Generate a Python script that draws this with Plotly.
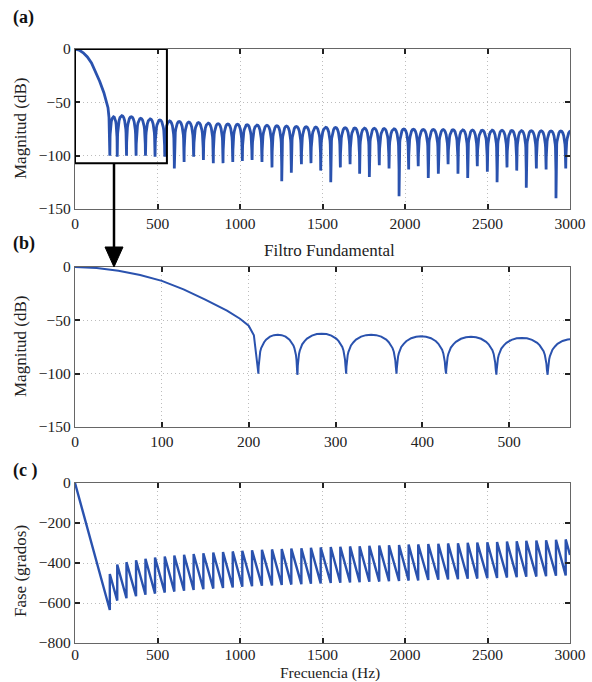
import plotly.graph_objects as go

# ---------------- data ----------------
MAIN_LOBE_HZ = [0, 25, 50, 75, 100, 125, 150, 175, 190, 200, 206]
MAIN_LOBE_DB = [0, -1, -3.5, -7.5, -13, -21, -30.5, -41, -48.5, -55, -64]

NULL_HZ = [211, 256, 312, 370, 427, 485, 544, 602, 661, 719, 778, 838, 897, 956,
           1014, 1073, 1133, 1194, 1253, 1311, 1372, 1430, 1489, 1550, 1608, 1667,
           1725, 1784, 1844, 1903, 1964, 2022, 2080, 2141, 2202, 2261, 2321, 2380,
           2438, 2499, 2558, 2618, 2677, 2735, 2796, 2855, 2915, 2974, 3033]
NULL_DB = [-100, -101, -100, -100, -100, -101, -101, -112, -106, -101, -104, -107,
           -107, -106, -105, -104, -106, -111, -124, -116, -108, -107, -114, -125,
           -111, -108, -117, -120, -109, -112, -138, -113, -110, -121, -117, -108,
           -117, -121, -110, -115, -125, -111, -114, -130, -112, -113, -140, -112, -110]
LOBE_PEAK_DB = [-63.5, -62.5, -63.5, -65, -65.5, -66.5, -67.5, -68, -68.5, -69,
                -69.5, -70, -70.3, -70.6, -71, -71.3, -71.6, -72, -72.3, -72.6,
                -72.9, -73.2, -73.4, -73.6, -73.8, -74, -74.2, -74.4, -74.6, -74.8,
                -75, -75.2, -75.4, -75.5, -75.6, -75.7, -75.8, -76, -76.1, -76.2,
                -76.3, -76.4, -76.5, -76.6, -76.7, -76.8, -76.9, -77]
# side-lobe profile: fraction of lobe width, dB below lobe peak
LOBE_SHAPE_T = [0.004, 0.01, 0.02, 0.035, 0.05, 0.075, 0.1, 0.15, 0.2, 0.3, 0.4]
LOBE_SHAPE_DB = [-38, -30, -24, -19, -16, -12.5, -10, -7, -4.6, -1.8, -0.4]

PHASE_LOW = [-635, -588, -576, -566, -559, -553, -548, -543, -539, -535, -531, -528,
             -525, -522, -519, -516, -514, -512, -510, -508, -506, -504, -502, -500,
             -499, -497, -496, -494, -493, -491, -490, -488, -487, -485, -484, -482,
             -481, -479, -478, -476, -475, -473, -471, -469, -468, -466, -464, -462]
PHASE_HIGH = [-455, -408, -396, -386, -379, -373, -368, -363, -359, -355, -351, -348,
              -345, -342, -339, -336, -334, -332, -330, -328, -326, -324, -322, -320,
              -319, -317, -316, -314, -313, -311, -310, -308, -307, -305, -304, -302,
              -301, -299, -298, -296, -295, -293, -291, -289, -288, -286, -284, -282]
PHASE_START = (0, 0)
PHASE_END = (3000, -360)

X_TICKS_FULL = [0, 500, 1000, 1500, 2000, 2500, 3000]
X_TICKS_ZOOM = [0, 100, 200, 300, 400, 500]
Y_TICKS_MAG = [-150, -100, -50, 0]
Y_TICKS_PHASE = [-800, -600, -400, -200, 0]

# ---------------- build curves ----------------
mx = list(MAIN_LOBE_HZ) + [NULL_HZ[0]]
my = list(MAIN_LOBE_DB) + [NULL_DB[0]]
for i, peak in enumerate(LOBE_PEAK_DB):
    a, b = NULL_HZ[i], NULL_HZ[i + 1]
    w = b - a
    for t, o in zip(LOBE_SHAPE_T, LOBE_SHAPE_DB):
        mx.append(a + t * w)
        my.append(max(peak + o, NULL_DB[i]))
    mx.append(a + 0.5 * w)
    my.append(peak)
    for t, o in zip(reversed(LOBE_SHAPE_T), reversed(LOBE_SHAPE_DB)):
        mx.append(b - t * w)
        my.append(max(peak + o, NULL_DB[i + 1]))
    mx.append(b)
    my.append(NULL_DB[i + 1])

px = [PHASE_START[0]]
py = [PHASE_START[1]]
for f, lo, hi in zip(NULL_HZ, PHASE_LOW, PHASE_HIGH):
    px += [f, f]
    py += [lo, hi]
px.append(PHASE_END[0])
py.append(PHASE_END[1])

BLUE = "#2A52AE"
FONT = '"Liberation Serif", "Times New Roman", "DejaVu Serif", serif'

fig = go.Figure()
fig.add_trace(go.Scatter(x=mx, y=my, mode="lines", line=dict(color=BLUE, width=2.8),
                         xaxis="x", yaxis="y", showlegend=False, hoverinfo="skip"))
fig.add_trace(go.Scatter(x=mx, y=my, mode="lines", line=dict(color=BLUE, width=2),
                         xaxis="x2", yaxis="y2", showlegend=False, hoverinfo="skip"))
fig.add_trace(go.Scatter(x=px, y=py, mode="lines", line=dict(color=BLUE, width=2.4),
                         xaxis="x3", yaxis="y3", showlegend=False, hoverinfo="skip"))

W, H = 592, 682
xd = [75 / W, 570 / W]


def ydom(top, bottom):
    return [1 - bottom / H, 1 - top / H]


axis_common = dict(
    showline=True, linecolor="#666", linewidth=1.2, mirror="ticks",
    ticks="inside", ticklen=5, tickcolor="#222", tickwidth=1.5,
    showgrid=True, gridcolor="#bdbdbd", griddash="1px,3px", gridwidth=1,
    zeroline=False, automargin=False,
    tickfont=dict(family=FONT, size=15.5, color="#222"),
)

fig.update_layout(
    width=W, height=H, margin=dict(l=0, r=0, t=0, b=0, pad=0, autoexpand=False),
    paper_bgcolor="white", plot_bgcolor="white",
    xaxis=dict(domain=xd, anchor="y", range=[0, 3000], tickvals=X_TICKS_FULL, **axis_common),
    yaxis=dict(domain=ydom(49, 209), anchor="x", range=[-150, 0], tickvals=Y_TICKS_MAG, **axis_common),
    xaxis2=dict(domain=xd, anchor="y2", range=[0, 570], tickvals=X_TICKS_ZOOM, **axis_common),
    yaxis2=dict(domain=ydom(267, 427), anchor="x2", range=[-150, 0], tickvals=Y_TICKS_MAG, **axis_common),
    xaxis3=dict(domain=xd, anchor="y3", range=[0, 3000], tickvals=X_TICKS_FULL,
                ticklabelstandoff=-3, **axis_common),
    yaxis3=dict(domain=ydom(483, 643), anchor="x3", range=[-800, 0], tickvals=Y_TICKS_PHASE, **axis_common),
)

# zoom box on panel (a)
fig.add_shape(type="rect", xref="x", yref="y", x0=0, x1=557, y0=-107, y1=0,
              line=dict(color="black", width=2))
# arrow from box to panel (b)
fig.add_shape(type="line", xref="paper", yref="paper",
              x0=114 / W, x1=114 / W, y0=1 - 163 / H, y1=1 - 250 / H,
              line=dict(color="black", width=2.5))
fig.add_shape(type="path", xref="paper", yref="paper",
              path=f"M {105 / W},{1 - 247 / H} L {123 / W},{1 - 247 / H} L {114 / W},{1 - 267 / H} Z",
              fillcolor="black", line=dict(color="black", width=1))


def txt(x, y, s, size=17, angle=0):
    fig.add_annotation(xref="paper", yref="paper", x=x / W, y=1 - y / H, text=s,
                       showarrow=False, textangle=angle, xanchor="center", yanchor="middle",
                       font=dict(family=FONT, size=size, color="#222"))


txt(20, 128, "Magnitud (dB)", angle=-90)
txt(20, 346, "Magnitud (dB)", angle=-90)
txt(20, 571, "Fase (grados)", angle=-90)
txt(329, 250, "Filtro Fundamental")
txt(330, 673, "Frecuencia (Hz)", size=15.5)
for lab, yy in (("(a)", 18), ("(b)", 243), ("(c )", 470)):
    fig.add_annotation(xref="paper", yref="paper", x=11 / W, y=1 - yy / H, text=f"<b>{lab}</b>",
                       showarrow=False, xanchor="left", yanchor="middle",
                       font=dict(family=FONT, size=18, color="#111"))

fig.write_html("out.html")
